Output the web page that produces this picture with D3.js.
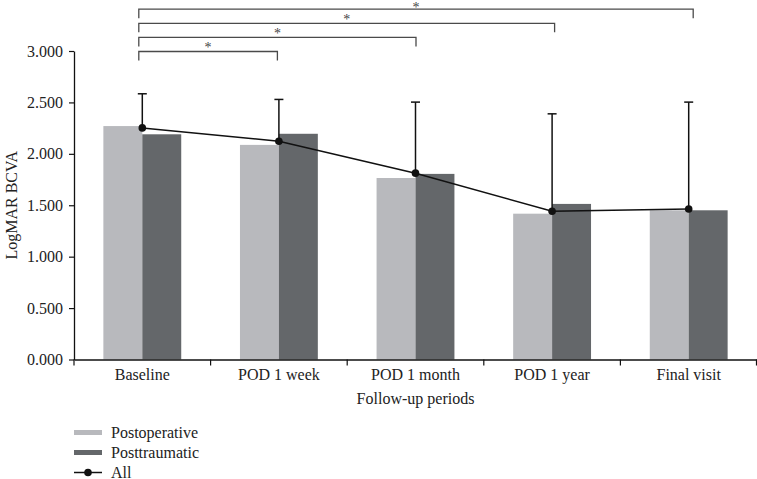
<!DOCTYPE html>
<html><head><meta charset="utf-8">
<script src="https://cdn.jsdelivr.net/npm/d3@7"></script>
<style>body{margin:0;background:#fff}svg{display:block}text{font-family:"Liberation Serif","Times New Roman",serif}</style>
</head><body><svg id="c" width="757" height="479"></svg>
<script>
const categories = ["Baseline","POD 1 week","POD 1 month","POD 1 year","Final visit"];
const postoperative = [2.27, 2.087, 1.765, 1.418, 1.451];
const posttraumatic = [2.19, 2.195, 1.805, 1.513, 1.451];
const allMean = [2.252, 2.123, 1.812, 1.441, 1.464];
const allUpper = [2.584, 2.529, 2.503, 2.389, 2.503];
const yTicks = [0, 0.5, 1, 1.5, 2, 2.5, 3];
const sigTargets = [1, 2, 3, 4];
const seriesNames = ["Postoperative","Posttraumatic","All"];

const FS = 16;
const svg = d3.select("#c");
const L = 74, R = 757, T = 51, B = 359.5;
const x = d3.scaleBand().domain(categories).range([L, R]);
const xi = d3.scaleBand().domain([0,1]).range([x.bandwidth()*0.215, x.bandwidth()*0.785]);
const y = d3.scaleLinear().domain([0, 3]).range([B, T]);
const colors = ["#b8b9bd", "#64676a"];
const cx = c => x(c) + x.bandwidth()/2;

// bars
[postoperative, posttraumatic].forEach((arr, s) => {
  svg.append("g").selectAll("rect").data(arr).join("rect")
    .attr("x", (d,i) => x(categories[i]) + xi(s))
    .attr("y", d => y(d))
    .attr("width", xi.bandwidth())
    .attr("height", d => B - y(d))
    .attr("fill", colors[s]);
});

// y axis
const ya = svg.append("g").attr("transform", `translate(${L},0)`)
  .call(d3.axisLeft(y).tickValues(yTicks).tickFormat(d3.format(".3f")).tickSize(5).tickSizeOuter(0));
ya.select(".domain").attr("stroke", "#111").attr("stroke-width", 1.3);
ya.selectAll(".tick line").attr("stroke", "#111").attr("stroke-width", 1.2);
ya.selectAll(".tick text").attr("font-size", FS).attr("x", -11).attr("fill", "#222")
  .attr("font-family", "Liberation Serif");

// x axis
const xa = svg.append("g").attr("transform", `translate(0,${B})`)
  .call(d3.axisBottom(x).tickSize(0).tickSizeOuter(0));
xa.select(".domain").attr("stroke", "#111").attr("stroke-width", 1.3);
xa.selectAll(".tick text").attr("font-size", FS).attr("dy", "1.1em").attr("fill", "#222")
  .attr("font-family", "Liberation Serif");
const bounds = categories.map(c => x(c)).concat([R - 0.5]);
svg.append("g").selectAll("line").data(bounds).join("line")
  .attr("x1", d => d).attr("x2", d => d).attr("y1", B).attr("y2", B + 6)
  .attr("stroke", "#111").attr("stroke-width", 1.2);

// error bars
const eb = svg.append("g").attr("stroke", "#111").attr("stroke-width", 1.5);
categories.forEach((c, i) => {
  eb.append("line").attr("x1", cx(c)).attr("x2", cx(c)).attr("y1", y(allMean[i])).attr("y2", y(allUpper[i]));
  eb.append("line").attr("x1", cx(c)-4.5).attr("x2", cx(c)+4.5).attr("y1", y(allUpper[i])).attr("y2", y(allUpper[i]));
});

// line + dots
const line = d3.line().x((d,i) => cx(categories[i])).y(d => y(d));
svg.append("path").datum(allMean).attr("d", line).attr("fill", "none").attr("stroke", "#111").attr("stroke-width", 1.5);
svg.append("g").selectAll("circle").data(allMean).join("circle")
  .attr("cx", (d,i) => cx(categories[i])).attr("cy", d => y(d)).attr("r", 3.8).attr("fill", "#111");

// significance brackets
const bx = d3.scaleLinear().domain([0, 4]).range([cx(categories[0]) - 3.5, cx(categories[4]) + 4.5]);
const sg = svg.append("g");
sigTargets.forEach((t, k) => {
  const yy = y(3) + 0.5 - (t - 1) * 14.1;
  const x0 = bx(0), x1 = bx(t);
  sg.append("path").attr("d", `M${x0},${yy+9}V${yy}H${x1}V${yy+9}`)
    .attr("fill", "none").attr("stroke", "#4a4a4a").attr("stroke-width", 1.3);
  sg.append("text").attr("x", (x0 + x1)/2).attr("y", Math.max(yy + 0.5, 11.5)).attr("text-anchor", "middle")
    .attr("font-size", 14).attr("fill", "#444").text("*");
});

// axis titles
svg.append("text").attr("transform", `translate(17,${(T+B)/2}) rotate(-90)`).attr("text-anchor", "middle")
  .attr("font-size", FS).attr("fill", "#222").text("LogMAR BCVA");
svg.append("text").attr("x", (L+R)/2).attr("y", 404).attr("text-anchor", "middle")
  .attr("font-size", FS).attr("fill", "#222").text("Follow-up periods");

// legend
const lg = svg.append("g");
const ly = [432.5, 452.5, 472.5];
seriesNames.forEach((n, i) => {
  if (i < 2) {
    lg.append("rect").attr("x", 74).attr("y", ly[i] - 2.5).attr("width", 28).attr("height", 5).attr("fill", colors[i]);
  } else {
    lg.append("line").attr("x1", 74).attr("x2", 102).attr("y1", ly[i]).attr("y2", ly[i]).attr("stroke", "#111").attr("stroke-width", 1.5);
    lg.append("circle").attr("cx", 88).attr("cy", ly[i]).attr("r", 3.8).attr("fill", "#111");
  }
  lg.append("text").attr("x", 111).attr("y", ly[i] + 5).attr("font-size", FS).attr("fill", "#222").text(n);
});
</script></body></html>
